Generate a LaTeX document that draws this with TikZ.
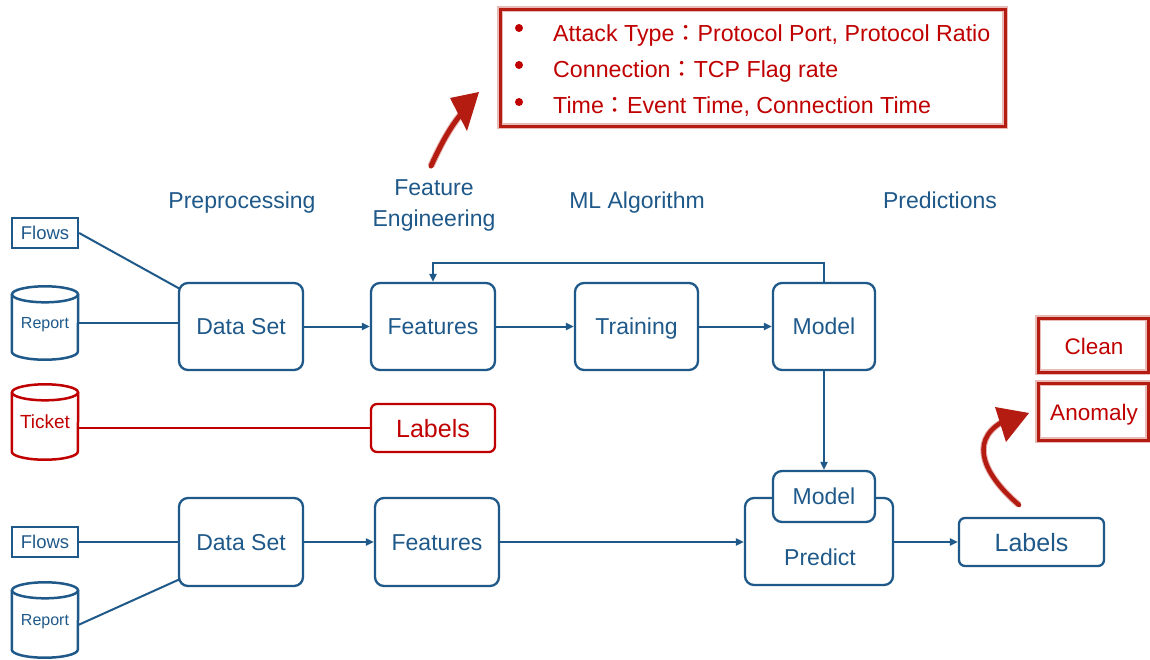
\documentclass[tikz,border=0pt]{standalone}
\usepackage{fontspec}
\setmainfont{Liberation Sans}
\newfontfamily\cjk{Noto Sans CJK JP}
\usetikzlibrary{arrows.meta,calc}
\definecolor{bl}{RGB}{31,89,138}
\definecolor{rd}{RGB}{192,0,0}
\definecolor{br}{RGB}{180,28,18}
\begin{document}
\begin{tikzpicture}[x=1pt,y=-1pt,
  t/.style={text=bl, font=\fontsize{23}{27}\selectfont, text height=16.5pt, text depth=0pt, inner sep=0pt},
  box/.style={t, draw=bl, line width=2.3pt, rounded corners=9pt},
  sq/.style={t, draw=bl, line width=2.3pt, font=\fontsize{18.5}{22}\selectfont, text height=13.3pt},
  cyl/.style={t, inner sep=0pt},
  conn/.style={draw=bl, line width=2pt},
  arr/.style={conn, -{Triangle[length=8pt,width=7pt]}},
  brushbox/.style={draw=br, line width=3pt, preaction={draw=br!30, line width=6pt}},
  rt/.style={text=rd, font=\fontsize{23.2}{27}\selectfont, inner sep=0pt},
  hdr/.style={t}]
\useasboundingbox[fill=white] (0,0) rectangle (1150,659);

% ---------- top information box ----------
\node[brushbox, minimum width=505pt, minimum height=117pt, inner sep=0pt] (info) at (752.5,67.5) {};
\foreach \yy in {28,65,102} \fill[rd] (519,\yy) circle[radius=4pt];
\node[rt, anchor=base west] (i1) at (553,41) {Attack Type{\cjk ：}Protocol Port, Protocol Ratio};
\node[rt, anchor=base west] (i2) at (553,77) {Connection{\cjk ：}TCP Flag rate};
\node[rt, anchor=base west] (i3) at (553,113) {Time{\cjk ：}Event Time, Connection Time};
% red arrow to info box
\draw[br, line width=5pt, line cap=round, preaction={draw=br!35, line width=7pt}] (431,166) .. controls (440,146) and (450,127) .. (462,113);
\fill[br] (450,98) -- (479,92) -- (467,131) -- cycle;

% ---------- headers ----------
\node[hdr] (h1) at (242,200) {Preprocessing};
\node[text=bl, font=\fontsize{23}{31}\selectfont, align=center, inner sep=0pt] (h2) at (434,205) {Feature\\Engineering};
\node[hdr] (h3) at (637,200) {ML Algorithm};
\node[hdr] (h4) at (940,200) {Predictions};

% ---------- training row ----------
\node[sq, minimum width=66pt, minimum height=30pt] (fl1) at (45,233) {Flows};
\node[cyl, font=\fontsize{16}{19}\selectfont, text height=11.5pt, minimum width=66pt, minimum height=73pt] (rp1) at (45,323) {Report};
\node[cyl, text=rd, font=\fontsize{19}{22}\selectfont, text height=13.6pt, minimum width=66pt, minimum height=75pt] (tk) at (45,422) {Ticket};
\node[box, minimum width=124pt, minimum height=87pt] (ds1) at (241,326.5) {Data Set};
\node[box, minimum width=124pt, minimum height=87pt] (f1) at (433,326.5) {Features};
\node[box, minimum width=123pt, minimum height=87pt] (tr) at (636.5,326.5) {Training};
\node[box, minimum width=102pt, minimum height=87pt] (m1) at (824,326.5) {Model};
\node[box, draw=rd, text=rd, rounded corners=6pt, font=\fontsize{25}{29}\selectfont, text height=18pt, minimum width=124pt, minimum height=48pt] (lb1) at (433,428) {Labels};

% cylinders
\foreach \n/\c in {rp1/bl, tk/rd}{
  \draw[\c, line width=2.5pt] ($(\n.north west)+(0,8)$) -- ($(\n.south west)+(0,-8)$)
     arc[start angle=180, end angle=360, x radius=33pt, y radius=8pt] -- ($(\n.north east)+(0,8)$);
  \draw[\c, line width=2.5pt] ($(\n.north)+(0,8)$) ellipse[x radius=33pt, y radius=8pt];
}

\draw[conn] (fl1.east) -- ($(ds1.north west)+(2,7)$);
\draw[conn] (rp1.east) -- (rp1.east -| ds1.west);
\draw[arr] (ds1.east) -- (f1.west);
\draw[arr] (f1.east) -- (tr.west);
\draw[arr] (tr.east) -- (m1.west);
\draw[arr] (m1.north) -- ++(0,-19) -| (f1.north);
\draw[rd, line width=2pt] (tk.east |- lb1.west) -- (lb1.west);

% ---------- prediction row ----------
\node[sq, minimum width=66pt, minimum height=30pt] (fl2) at (45,542) {Flows};
\node[cyl, font=\fontsize{16}{19}\selectfont, text height=11.5pt, minimum width=66pt, minimum height=75pt] (rp2) at (45,620) {Report};
\draw[bl, line width=2.5pt] ($(rp2.north west)+(0,8)$) -- ($(rp2.south west)+(0,-8)$)
   arc[start angle=180, end angle=360, x radius=33pt, y radius=8pt] -- ($(rp2.north east)+(0,8)$);
\draw[bl, line width=2.5pt] ($(rp2.north)+(0,8)$) ellipse[x radius=33pt, y radius=8pt];
\node[box, minimum width=124pt, minimum height=88pt] (ds2) at (241,542) {Data Set};
\node[box, minimum width=124pt, minimum height=88pt] (f2) at (437,542) {Features};
\node[box, minimum width=148pt, minimum height=87pt] (pr) at (819,541.5) {};
\node[t] (prt) at (820,557) {Predict};
\node[box, fill=white, minimum width=102pt, minimum height=51pt] (m2) at (824,496.5) {Model};
\node[box, rounded corners=6pt, font=\fontsize{25}{29}\selectfont, text height=18pt, minimum width=145pt, minimum height=48pt] (lb2) at (1031.5,542) {Labels};

\draw[conn] (fl2.east) -- (fl2.east -| ds2.west);
\draw[conn] ($(rp2.east)+(0,5)$) -- ($(ds2.south west)+(2,-8)$);
\draw[arr] (ds2.east) -- (f2.west);
\draw[arr] (f2.east) -- (f2.east -| pr.west);
\draw[arr] (pr.east |- lb2.west) -- (lb2.west);
\draw[arr] (m1.south) -- (m2.north);

% ---------- outcome boxes ----------
\node[brushbox, minimum width=110pt, minimum height=54pt, inner sep=0pt] (cl) at (1093,345) {};
\node[rt, font=\fontsize{22.5}{27}\selectfont, text height=16pt, text depth=0pt] (clt) at (1094,346) {Clean};
\node[brushbox, minimum width=110pt, minimum height=57pt, inner sep=0pt] (an) at (1093,411.5) {};
\node[rt, font=\fontsize{22.5}{27}\selectfont, text height=16pt, text depth=0pt] (ant) at (1094,412) {Anomaly};
\draw[br, line width=4.5pt, line cap=round, preaction={draw=br!35, line width=6.5pt}] (1019,505) .. controls (985,476) and (968,442) .. (1002,422);
\fill[br] (995,407) -- (1029,413) -- (1006,442) -- cycle;
\end{tikzpicture}
\end{document}
